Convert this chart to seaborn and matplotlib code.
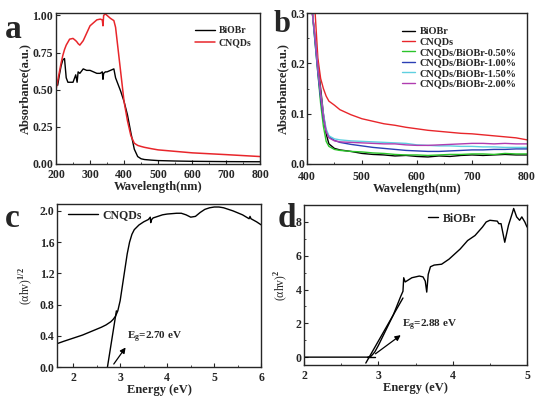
import numpy as np
import pandas as pd
import matplotlib
matplotlib.use("Agg")
import matplotlib.pyplot as plt
import seaborn as sns

# panel a: UV-vis absorbance
wl_a = [200, 205, 210, 215, 220, 225, 230, 235, 240, 250, 258, 262, 265, 270, 280, 290, 300, 310, 320, 330, 336,
        338, 340, 345, 350, 360, 370, 375, 380, 390, 400, 410, 420, 430, 440, 450, 460, 480, 500, 550, 600, 700, 800]
biobr_a = [0.55, 0.53, 0.60, 0.66, 0.70, 0.71, 0.58, 0.55, 0.55, 0.55, 0.60, 0.55, 0.62, 0.61, 0.64, 0.63, 0.63,
           0.62, 0.61, 0.61, 0.62, 0.57, 0.61, 0.62, 0.62, 0.63, 0.64, 0.58, 0.55, 0.49, 0.42, 0.33, 0.21, 0.10,
           0.05, 0.035, 0.03, 0.026, 0.023, 0.02, 0.018, 0.016, 0.015]
cnqds_a = [0.50, 0.56, 0.62, 0.68, 0.73, 0.77, 0.80, 0.82, 0.84, 0.845, 0.83, 0.82, 0.81, 0.80, 0.83, 0.88, 0.93,
           0.95, 0.97, 0.975, 0.97, 0.93, 1.00, 1.01, 1.00, 0.98, 0.965, 0.92, 0.82, 0.62, 0.42, 0.29, 0.19, 0.14,
           0.125, 0.118, 0.112, 0.103, 0.095, 0.085, 0.075, 0.063, 0.05]

# panel b: composites
wl_b = [410, 415, 420, 425, 430, 435, 440, 450, 460, 480, 500, 520, 540, 560, 580, 600, 620, 640, 660, 680, 700,
        720, 740, 760, 780, 800]
biobr_b = [0.30, 0.25, 0.20, 0.15, 0.10, 0.06, 0.04, 0.031, 0.028, 0.025, 0.021, 0.019, 0.018, 0.016, 0.017, 0.015,
           0.014, 0.016, 0.015, 0.017, 0.018, 0.017, 0.018, 0.019, 0.018, 0.018]
cnqds_b = [np.nan, 0.30, 0.21, 0.17, 0.15, 0.135, 0.125, 0.117, 0.108, 0.098, 0.09, 0.085, 0.08, 0.077, 0.073,
           0.07, 0.067, 0.065, 0.063, 0.061, 0.06, 0.058, 0.056, 0.054, 0.052, 0.048]
cn05_b = [0.30, 0.24, 0.18, 0.12, 0.075, 0.045, 0.035, 0.029, 0.027, 0.025, 0.024, 0.022, 0.021, 0.019, 0.018,
          0.018, 0.017, 0.018, 0.019, 0.019, 0.02, 0.02, 0.019, 0.021, 0.02, 0.02]
cn10_b = [0.30, 0.24, 0.18, 0.13, 0.09, 0.065, 0.055, 0.047, 0.043, 0.039, 0.036, 0.033, 0.031, 0.029, 0.027,
          0.026, 0.025, 0.025, 0.026, 0.027, 0.028, 0.028, 0.029, 0.029, 0.03, 0.03]
cn15_b = [0.30, 0.25, 0.19, 0.14, 0.10, 0.07, 0.056, 0.05, 0.048, 0.046, 0.045, 0.044, 0.043, 0.042, 0.041,
          0.038, 0.037, 0.036, 0.036, 0.035, 0.035, 0.034, 0.034, 0.033, 0.033, 0.033]
cn20_b = [0.30, 0.25, 0.19, 0.14, 0.095, 0.065, 0.052, 0.046, 0.044, 0.043, 0.042, 0.041, 0.04, 0.04, 0.038,
          0.037, 0.037, 0.038, 0.039, 0.04, 0.041, 0.041, 0.04, 0.041, 0.04, 0.04]
labels_b = ["BiOBr", "CNQDs", "CNQDs/BiOBr-0.50%", "CNQDs/BiOBr-1.00%", "CNQDs/BiOBr-1.50%", "CNQDs/BiOBr-2.00%"]
colors_b = ["black", "#e8262b", "#2bc42b", "#2b3fb5", "#5fd0e0", "#b03cb0"]

# panel c: Tauc plot CNQDs
e_c = [1.66, 1.8, 2.0, 2.2, 2.4, 2.6, 2.7, 2.8, 2.85, 2.9, 2.95, 3.0, 3.05, 3.1, 3.15, 3.2, 3.25, 3.3, 3.4, 3.5,
       3.6, 3.64, 3.65, 3.67, 3.7, 3.8, 3.9, 4.0, 4.2, 4.3, 4.4, 4.5, 4.6, 4.7, 4.8, 4.9, 5.0, 5.1, 5.2, 5.4, 5.6,
       5.74, 5.76, 5.78, 5.9, 6.0]
ahv_c = [0.30, 0.33, 0.37, 0.41, 0.46, 0.51, 0.54, 0.58, 0.61, 0.65, 0.72, 0.85, 1.05, 1.25, 1.45, 1.60, 1.70,
         1.76, 1.82, 1.86, 1.89, 1.92, 1.85, 1.89, 1.91, 1.93, 1.95, 1.96, 1.97, 1.97, 1.95, 1.92, 1.93, 1.98, 2.02,
         2.04, 2.05, 2.05, 2.04, 2.0, 1.95, 1.90, 1.93, 1.90, 1.86, 1.82]
tan_c = [2.73, 2.92]
tan_c_y = [0.0, 0.72]

# panel d: Tauc plot BiOBr
e_d = [2.0, 2.5, 2.85, 2.9, 2.95, 3.0, 3.1, 3.2, 3.3, 3.33, 3.34, 3.36, 3.45, 3.55, 3.6, 3.63, 3.65, 3.67, 3.7,
       3.75, 3.85, 3.95, 4.0, 4.1, 4.2, 4.3, 4.4, 4.45, 4.5, 4.6, 4.62, 4.65, 4.7, 4.75, 4.8, 4.82, 4.86, 4.9, 4.93,
       4.97, 5.0]
ahv_d = [0.0, 0.0, 0.0, 0.05, 0.3, 0.7, 1.6, 2.5, 3.6, 3.9, 4.7, 4.45, 4.7, 4.8, 4.75, 4.5, 3.85, 4.9, 5.35, 5.45,
         5.5, 5.8, 6.0, 6.4, 6.9, 7.2, 7.7, 8.0, 8.1, 8.05, 7.9, 7.9, 6.8, 7.8, 8.5, 8.8, 8.3, 8.1, 8.3, 8.0, 7.7]
tan_d = [2.83, 3.33]
tan_d_y = [-0.35, 3.5]

sns.set_style("ticks")
plt.rcParams["font.family"] = ["Liberation Serif", "DejaVu Serif"]
plt.rcParams["font.weight"] = "bold"
plt.rcParams["axes.labelweight"] = "bold"
plt.rcParams["mathtext.fontset"] = "custom"
plt.rcParams["mathtext.rm"] = "Liberation Serif"
plt.rcParams["mathtext.bf"] = "Liberation Serif:bold"
plt.rcParams["xtick.direction"] = "in"
plt.rcParams["ytick.direction"] = "in"
plt.rcParams["axes.linewidth"] = 1.0

fig = plt.figure(figsize=(5.49, 3.99), dpi=100)
ax_a = fig.add_axes([0.102, 0.589, 0.372, 0.378])
ax_b = fig.add_axes([0.559, 0.589, 0.401, 0.378])
ax_c = fig.add_axes([0.104, 0.080, 0.372, 0.409])
ax_d = fig.add_axes([0.554, 0.085, 0.406, 0.401])

tick_fs = 8.5
lab_fs = 9

# a
sns.lineplot(x=wl_a, y=biobr_a, ax=ax_a, color="black", lw=1, label="BiOBr")
sns.lineplot(x=wl_a, y=cnqds_a, ax=ax_a, color="#e8262b", lw=1.1, label="CNQDs")
ax_a.set_xlim(200, 800)
ax_a.set_ylim(0, 1.015)
ax_a.set_xticks([200, 300, 400, 500, 600, 700, 800])
ax_a.set_xticks([250, 350, 450, 550, 650, 750], minor=True)
ax_a.set_yticks([0, 0.25, 0.5, 0.75, 1.0])
ax_a.set_yticklabels(["0.00", "0.25", "0.50", "0.75", "1.00"])
ax_a.set_xlabel("Wavelength(nm)", fontsize=lab_fs, labelpad=0)
ax_a.set_ylabel("Absorbance(a.u.)", fontsize=lab_fs, labelpad=1)
ax_a.legend(loc="upper right", bbox_to_anchor=(1.0, 0.97), frameon=False, fontsize=7,
            handlelength=2.0, labelspacing=0.3, handletextpad=0.4)

# b
ys_b = [biobr_b, cnqds_b, cn05_b, cn10_b, cn15_b, cn20_b]
for y, lab, c in zip(ys_b, labels_b, colors_b):
    sns.lineplot(x=wl_b, y=y, ax=ax_b, color=c, lw=1, label=lab)
ax_b.set_xlim(400, 800)
ax_b.set_ylim(0, 0.3)
ax_b.set_xticks([400, 500, 600, 700, 800])
ax_b.set_xticks([450, 550, 650, 750], minor=True)
ax_b.set_yticks([0, 0.1, 0.2, 0.3])
ax_b.set_yticks([0.05, 0.15, 0.25], minor=True)
ax_b.set_xlabel("Wavelength(nm)", fontsize=lab_fs, labelpad=0)
ax_b.set_ylabel("Absorbance(a.u.)", fontsize=lab_fs, labelpad=1)
ax_b.legend(loc="upper left", bbox_to_anchor=(0.39, 0.97), frameon=False, fontsize=7.4,
            handlelength=1.3, labelspacing=0.12, handletextpad=0.4)

# c
sns.lineplot(x=e_c, y=ahv_c, ax=ax_c, color="black", lw=1, label="CNQDs")
ax_c.plot(tan_c, tan_c_y, color="black", lw=1)
ax_c.annotate("", xy=(3.15, 0.28), xytext=(2.83, 0.01),
              arrowprops=dict(arrowstyle="-|>", color="black", lw=0.9, mutation_scale=8))
ax_c.text(3.15, 0.36, "E$_\\mathbf{g}$=2.70 eV", fontsize=8, fontweight="bold")
ax_c.set_xlim(1.66, 6)
ax_c.set_ylim(0, 2.09)
ax_c.set_xticks([2, 3, 4, 5, 6])
ax_c.set_xticks([2.5, 3.5, 4.5, 5.5], minor=True)
ax_c.set_yticks([0, 0.4, 0.8, 1.2, 1.6, 2.0])
ax_c.set_xlabel("Energy (eV)", fontsize=lab_fs, labelpad=0)
ax_c.set_ylabel("(αhv)$^{1/2}$", fontsize=8.5, fontweight="normal", labelpad=3)
ax_c.legend(loc="upper left", bbox_to_anchor=(0.0, 1.03), frameon=False, fontsize=8.5,
            handlelength=2.6, handletextpad=0.3)

# d
sns.lineplot(x=e_d, y=ahv_d, ax=ax_d, color="black", lw=1, label="BiOBr")
ax_d.plot(tan_d, tan_d_y, color="black", lw=1)
ax_d.plot([2.85, 2.95], [0.0, 0.0], color="black", lw=1)
ax_d.annotate("", xy=(3.33, 1.4), xytext=(2.93, 0.1),
              arrowprops=dict(arrowstyle="-|>", color="black", lw=0.9, mutation_scale=8))
ax_d.text(3.32, 1.75, "E$_\\mathbf{g}$=2.88 eV", fontsize=8, fontweight="bold")
ax_d.set_xlim(2, 5)
ax_d.set_ylim(-0.47, 9.0)
ax_d.set_xticks([2, 3, 4, 5])
ax_d.set_xticks([2.5, 3.5, 4.5], minor=True)
ax_d.set_yticks([0, 2, 4, 6, 8])
ax_d.set_yticks([1, 3, 5, 7], minor=True)
ax_d.set_xlabel("Energy (eV)", fontsize=lab_fs, labelpad=0)
ax_d.set_ylabel("(αhv)$^2$", fontsize=8.5, fontweight="normal", labelpad=4)
ax_d.legend(loc="upper left", bbox_to_anchor=(0.51, 1.02), frameon=False, fontsize=8.5,
            handlelength=0.8, handletextpad=0.4)

for ax in [ax_a, ax_b, ax_c, ax_d]:
    for s in ax.spines.values():
        s.set_visible(True)
    ax.tick_params(which="major", length=3, width=0.8, labelsize=tick_fs, pad=2, top=False, right=False)
    ax.tick_params(which="minor", length=1.5, width=0.6, top=False, right=False)
    ax.tick_params(axis="x", which="major", pad=3.5)
    for t in ax.get_xticklabels() + ax.get_yticklabels():
        t.set_fontweight("bold")
ax_b.tick_params(axis="y", which="major", pad=1)
ax_b.tick_params(axis="x", which="major", pad=5)

fig.text(0.008, 0.965, "a", fontsize=24, fontweight="bold", va="top")
fig.text(0.498, 0.975, "b", fontsize=22, fontweight="bold", va="top")
fig.text(0.008, 0.490, "c", fontsize=24, fontweight="bold", va="top")
fig.text(0.505, 0.490, "d", fontsize=24, fontweight="bold", va="top")

fig.savefig("out.png", dpi=100)
